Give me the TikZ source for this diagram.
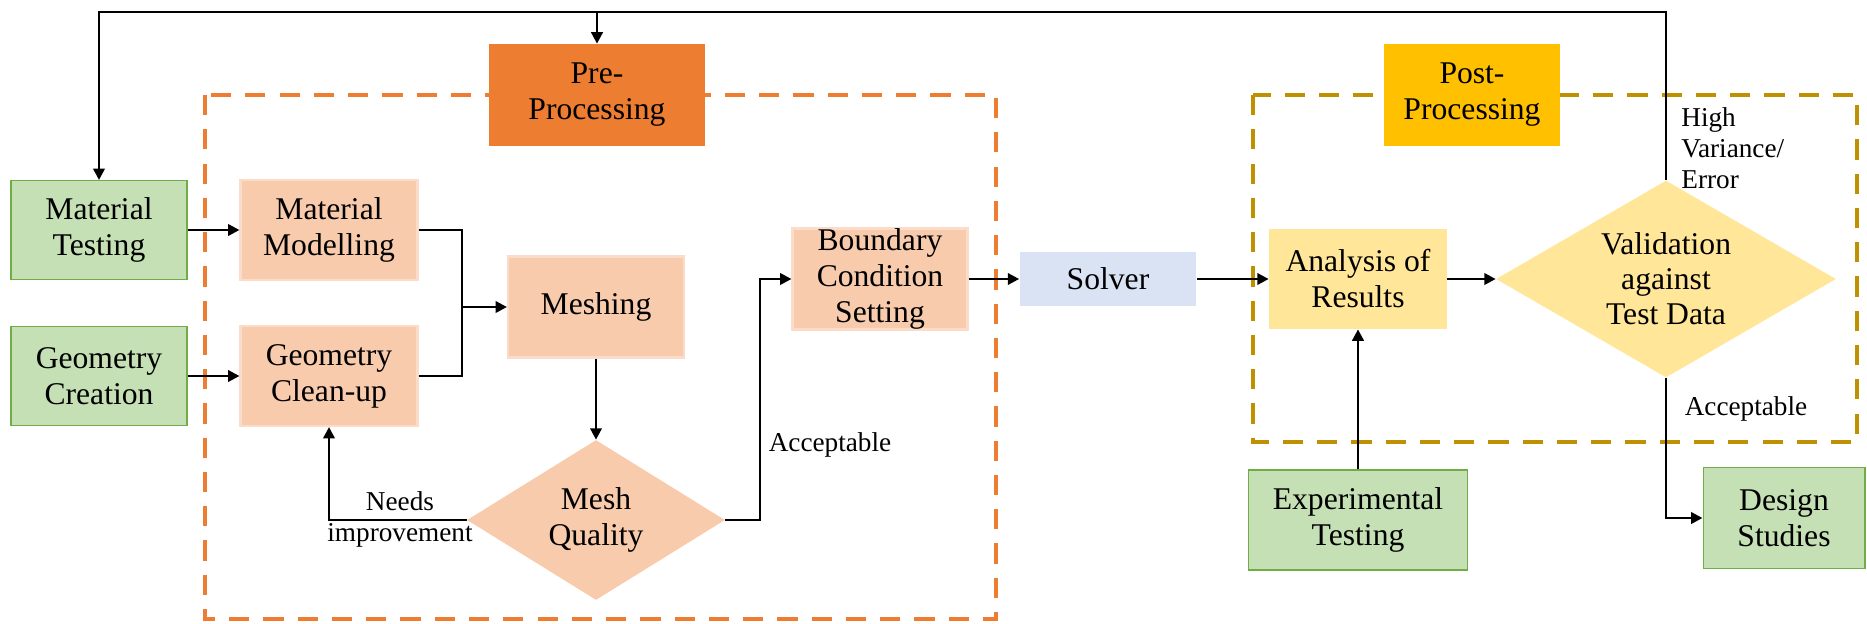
\documentclass[tikz,border=0pt]{standalone}
\usepackage{fontspec}
\setmainfont{Liberation Serif}
\usetikzlibrary{shapes.geometric,arrows.meta}
\definecolor{gfill}{HTML}{C5E0B4}
\definecolor{gline}{HTML}{70AD47}
\definecolor{peach}{HTML}{F8CBAD}
\definecolor{peachline}{HTML}{FBDCC8}
\definecolor{orangeA}{HTML}{ED7D31}
\definecolor{goldA}{HTML}{FFC000}
\definecolor{goldD}{HTML}{BF9000}
\definecolor{blueA}{HTML}{DAE3F3}
\definecolor{yellowA}{HTML}{FFE699}
\tikzset{
  box/.style={rectangle, inner sep=0pt, align=center, font=\fontsize{18}{20.5}\selectfont},
  greenbox/.style={box, fill=gfill, draw=gline, line width=0.6pt},
  peachbox/.style={box, fill=peach, draw=peachline, line width=1.2pt},
  dia/.style={diamond, inner sep=0pt, align=center, font=\fontsize{18}{20}\selectfont},
  conn/.style={line width=1.5pt, -{Triangle[length=6.5pt,width=6.5pt]}},
  plain/.style={line width=1.5pt},
  lbl/.style={font=\fontsize{15.5}{17.6}\selectfont, inner sep=0pt},
  region/.style={line width=2.6pt, dash pattern=on 11.5pt off 8pt}
}
\begin{document}
\begin{tikzpicture}[x=0.02cm,y=-0.02cm]
\useasboundingbox (0,0) rectangle (1867,623);
% dashed regions
\draw[region, draw=orangeA] (205,95) rectangle (996,619);
\draw[region, draw=goldD] (1253,95) rectangle (1857,442);
% nodes
\node[box, fill=orangeA, minimum width=4.34cm, minimum height=2.04cm] (pre) at (597,95) {Pre-\\Processing};
\node[box, fill=goldA, minimum width=3.54cm, minimum height=2.04cm] (post) at (1472,95) {Post-\\Processing};
\node[greenbox, minimum width=3.52cm, minimum height=1.98cm] (mt) at (99,230) {Material\\Testing};
\node[greenbox, minimum width=3.52cm, minimum height=1.98cm] (gc) at (99,376) {Geometry\\Creation};
\node[peachbox, minimum width=3.54cm, minimum height=2.0cm] (mm) at (329,230) {Material\\Modelling};
\node[peachbox, minimum width=3.54cm, minimum height=2.0cm] (gcu) at (329,376) {Geometry\\Clean-up};
\node[peachbox, minimum width=3.52cm, minimum height=2.02cm] (mesh) at (596,307) {Meshing};
\node[dia, fill=peach, aspect=1.61, minimum width=5.16cm, minimum height=3.2cm] (mq) at (596,520) {Mesh\\Quality};
\node[peachbox, minimum width=3.5cm, minimum height=2.02cm] (bc) at (880,279) {Boundary\\Condition\\Setting};
\node[box, fill=blueA, minimum width=3.54cm, minimum height=1.08cm] (solver) at (1108,279) {Solver};
\node[box, fill=yellowA, minimum width=3.56cm, minimum height=2.0cm] (ar) at (1358,279) {Analysis of\\Results};
\node[dia, fill=yellowA, aspect=1.73, minimum width=6.8cm, minimum height=3.94cm] (val) at (1666,279) {Validation\\against\\Test Data};
\node[greenbox, minimum width=4.38cm, minimum height=2.0cm] (et) at (1358,520) {Experimental\\Testing};
\node[greenbox, minimum width=3.24cm, minimum height=2.02cm] (ds) at (1784,518) {Design\\Studies};
% helper coordinates
\coordinate (j1) at (462,307);
\coordinate (j2) at (760,279);
\coordinate (top) at (1666,12);
\coordinate (topP) at (597,12);
% connectors
\draw[conn] (mt.east) -- (mm.west);
\draw[conn] (gc.east) -- (gcu.west);
\draw[plain] (mm.east) -| (j1);
\draw[plain] (gcu.east) -| (j1);
\draw[conn] (j1) -- (mesh.west);
\draw[conn] (mesh.south) -- (mq.north);
\draw[conn] (mq.west) -| (gcu.south);
\draw[conn] (mq.east) -| (j2) -- (bc.west);
\draw[conn] (bc.east) -- (solver.west);
\draw[conn] (solver.east) -- (ar.west);
\draw[conn] (ar.east) -- (val.west);
\draw[conn] (et.north) -- (ar.south);
\draw[conn] (val.south) |- (ds.west);
\draw[conn] (val.north) -- (top) -| (mt.north);
\draw[conn] (topP) -- (pre.north);
% labels
\node[lbl, align=center] (lneeds) at (400,519) {Needs\\improvement};
\node[lbl] (lacc1) at (830,445) {Acceptable};
\node[lbl] (lacc2) at (1746,409) {Acceptable};
\node[lbl, align=left, anchor=west] (lhigh) at (1681,148) {High\\Variance/\\Error};
\end{tikzpicture}
\end{document}
